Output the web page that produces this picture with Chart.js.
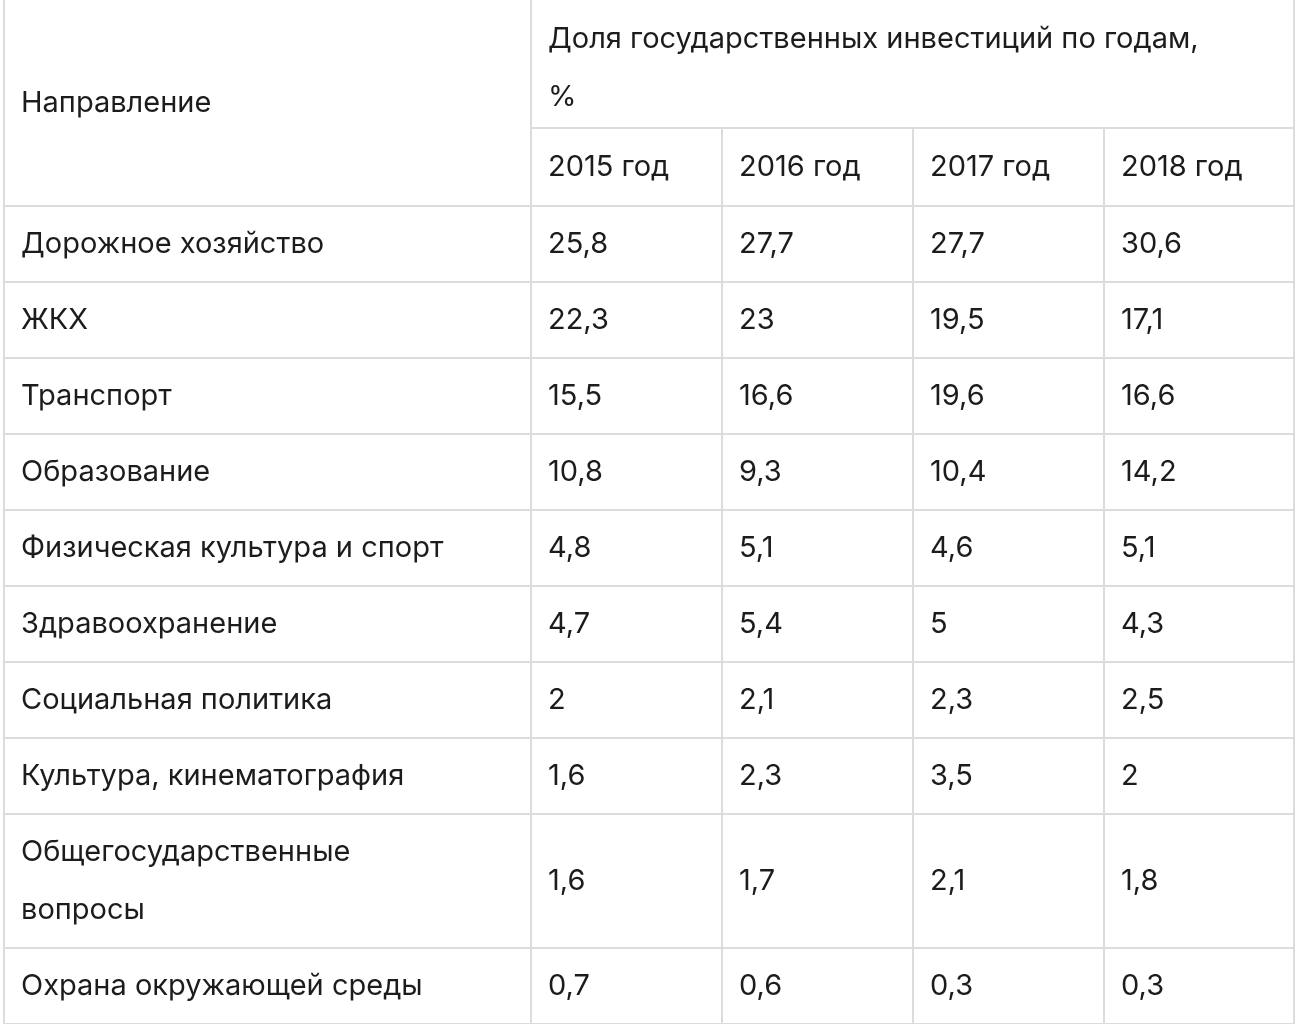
<!DOCTYPE html>
<html>
<head>
<meta charset="utf-8">
<script src="https://cdn.jsdelivr.net/npm/chart.js@4"></script>
<style>
  html, body { margin: 0; padding: 0; background: #fff; }
  canvas { display: block; }
</style>
</head>
<body>
<canvas id="table" width="1296" height="1024"></canvas>
<script>
'use strict';

const headerTitle = ['Доля государственных инвестиций по годам,', '%'];
const rowHeader = 'Направление';
const years = ['2015 год', '2016 год', '2017 год', '2018 год'];
const directions = [
    ['Дорожное хозяйство'],
    ['ЖКХ'],
    ['Транспорт'],
    ['Образование'],
    ['Физическая культура и спорт'],
    ['Здравоохранение'],
    ['Социальная политика'],
    ['Культура, кинематография'],
    ['Общегосударственные', 'вопросы'],
    ['Охрана окружающей среды'],
];
const values2015 = ['25,8', '22,3', '15,5', '10,8', '4,8', '4,7', '2', '1,6', '1,6', '0,7'];
const values2016 = ['27,7', '23', '16,6', '9,3', '5,1', '5,4', '2,1', '2,3', '1,7', '0,6'];
const values2017 = ['27,7', '19,5', '19,6', '10,4', '4,6', '5', '2,3', '3,5', '2,1', '0,3'];
const values2018 = ['30,6', '17,1', '16,6', '14,2', '5,1', '4,3', '2,5', '2', '1,8', '0,3'];

// layout (in scale units = pixels)
const colEdges = [4, 531, 722, 913, 1104, 1294];
const headerTop = -10, headerMid = 128, headerBottom = 206;
const rowHeight = 76, lineHeight = 58;
const textPad = 17;
const lineColor = '#dcdcdc';
const textColor = '#1c1c1e';
const font = '400 29px Inter, "Noto Sans", sans-serif';

const tablePlugin = {
    id: 'table',
    afterDraw(chart) {
        const ctx = chart.ctx;
        const x = (v) => chart.scales.x.getPixelForValue(v);
        const y = (v) => chart.scales.y.getPixelForValue(v);
        const columns = [values2015, values2016, values2017, values2018];

        // row edges
        const rowEdges = [headerBottom];
        directions.forEach((d) => {
            const prev = rowEdges[rowEdges.length - 1];
            rowEdges.push(prev + (d.length > 1 ? rowHeight + lineHeight : rowHeight));
        });
        const bottom = rowEdges[rowEdges.length - 1];

        ctx.save();
        ctx.strokeStyle = lineColor;
        ctx.lineWidth = 2;
        ctx.beginPath();
        colEdges.forEach((cx, i) => {
            const top = (i === 0 || i === 1 || i === colEdges.length - 1) ? headerTop : headerMid;
            ctx.moveTo(x(cx), y(top));
            ctx.lineTo(x(cx), y(bottom + 10));
        });
        ctx.moveTo(x(colEdges[1]), y(headerMid));
        ctx.lineTo(x(colEdges[5]), y(headerMid));
        rowEdges.forEach((ry) => {
            ctx.moveTo(x(colEdges[0]), y(ry));
            ctx.lineTo(x(colEdges[5]), y(ry));
        });
        ctx.stroke();

        ctx.fillStyle = textColor;
        ctx.font = font;
        ctx.textBaseline = 'middle';
        ctx.textAlign = 'left';

        const lines = (arr, left, centre) => {
            const start = centre - (arr.length - 1) * lineHeight / 2;
            arr.forEach((t, i) => ctx.fillText(t, x(left + textPad), y(start + i * lineHeight)));
        };

        lines([rowHeader], colEdges[0], (headerTop + 10 + headerBottom) / 2);
        lines(headerTitle, colEdges[1], 68);
        years.forEach((yr, i) => lines([yr], colEdges[i + 1], (headerMid + headerBottom) / 2));

        directions.forEach((d, r) => {
            const centre = (rowEdges[r] + rowEdges[r + 1]) / 2;
            lines(d, colEdges[0], centre);
            columns.forEach((col, c) => lines([col[r]], colEdges[c + 1], centre));
        });
        ctx.restore();
    },
};

new Chart(document.getElementById('table').getContext('2d'), {
    type: 'scatter',
    data: { datasets: [{ data: [] }] },
    options: {
        responsive: false,
        animation: false,
        devicePixelRatio: 1,
        layout: { padding: 0 },
        plugins: { legend: { display: false }, tooltip: { enabled: false } },
        scales: {
            x: { type: 'linear', min: 0, max: 1296, display: false },
            y: { type: 'linear', min: 0, max: 1024, reverse: true, display: false },
        },
    },
    plugins: [tablePlugin],
});
</script>
</body>
</html>
